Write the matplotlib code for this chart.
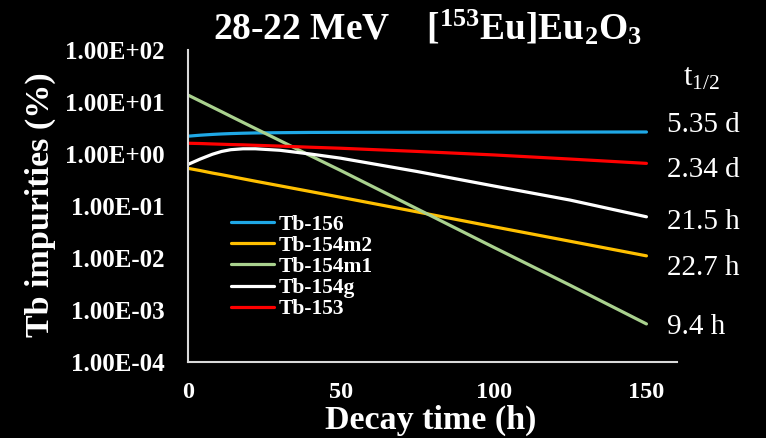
import matplotlib
matplotlib.use("Agg")
import matplotlib.pyplot as plt

# Decay time (h) and impurity levels (%) for each Tb isotope
time_h = [0, 4, 8, 11, 14, 18, 22, 30, 40, 50, 75, 100, 125, 150]
tb156 = [2.20, 2.30, 2.38, 2.43, 2.47, 2.51, 2.54, 2.57, 2.60, 2.61, 2.62, 2.63, 2.64, 2.65]
tb154m2 = [0.53, 0.48, 0.43, 0.40, 0.37, 0.333, 0.30, 0.245, 0.19, 0.147, 0.077, 0.040, 0.021, 0.011]
tb154m1 = [13.6, 10.4, 7.95, 6.5, 5.3, 4.05, 3.1, 1.82, 0.93, 0.48, 0.088, 0.0161, 0.0030, 0.00054]
tb154g = [0.63, 0.80, 0.99, 1.12, 1.21, 1.26, 1.26, 1.18, 1.00, 0.83, 0.46, 0.243, 0.130, 0.062]
tb153 = [1.61, 1.59, 1.56, 1.54, 1.52, 1.50, 1.47, 1.42, 1.35, 1.29, 1.12, 0.96, 0.80, 0.66]

series_labels = ["Tb-156", "Tb-154m2", "Tb-154m1", "Tb-154g", "Tb-153"]
series_values = [tb156, tb154m2, tb154m1, tb154g, tb153]
series_colors = ["#1FA8E6", "#FFC000", "#A9D18E", "#FFFFFF", "#FF0000"]

half_life_labels = ["5.35 d", "2.34 d", "21.5 h", "22.7 h", "9.4 h"]
x_ticks = [0, 50, 100, 150]
y_ticks = [1e2, 1e1, 1e0, 1e-1, 1e-2, 1e-3, 1e-4]
y_tick_labels = ["1.00E+02", "1.00E+01", "1.00E+00", "1.00E-01",
                 "1.00E-02", "1.00E-03", "1.00E-04"]

SERIF = "Liberation Serif"

fig = plt.figure(figsize=(7.66, 4.38), dpi=100, facecolor="black")
ax = fig.add_axes([188 / 766, 76 / 438, 489 / 766, 312 / 438], facecolor="black")

for label, vals, col in zip(series_labels, series_values, series_colors):
    ax.plot(time_h, vals, color=col, lw=2.3, label=label,
            solid_capstyle="round", solid_joinstyle="round")

ax.set_yscale("log")
ax.set_ylim(1e-4, 1e2)
ax.set_xlim(0, 160)
ax.set_xticks(x_ticks)
ax.set_xticklabels([str(t) for t in x_ticks])
ax.set_yticks(y_ticks)
ax.set_yticklabels(y_tick_labels)
ax.yaxis.set_minor_locator(matplotlib.ticker.NullLocator())
ax.tick_params(length=0, colors="white")
ax.tick_params(axis="x", pad=14.5, labelsize=17.5)
ax.tick_params(axis="y", pad=17, labelsize=18)
for lab in ax.get_xticklabels() + ax.get_yticklabels():
    lab.set_fontfamily(SERIF)
    lab.set_fontweight("bold")

for side in ("top", "right"):
    ax.spines[side].set_visible(False)
for side in ("left", "bottom"):
    ax.spines[side].set_color("#D9D9D9")
    ax.spines[side].set_linewidth(1.5)

# Axis titles
fig.text(431 / 766, 1 - 429 / 438, "Decay time (h)", ha="center", va="baseline",
         fontsize=24.5, fontfamily=SERIF, fontweight="bold", color="white")
fig.text(40 / 766, 1 - 205 / 438, "Tb impurities (%)", ha="center", va="center",
         rotation=90, fontsize=24.5, fontfamily=SERIF, fontweight="bold",
         color="white")

leg = ax.legend(loc="upper left", bbox_to_anchor=(0.07, 0.50), frameon=False,
                prop={"family": SERIF, "weight": "bold", "size": 15.5},
                handlelength=2.0, handletextpad=0.2, labelspacing=0.05,
                borderaxespad=0)
for txt in leg.get_texts():
    txt.set_color("white")

fig.text(427 / 766, 1 - 40 / 438,
         r"28-22 MeV    [$\mathregular{^{153}}$Eu]Eu$\mathregular{_2}$O$\mathregular{_3}$",
         ha="center", va="baseline", fontsize=27, fontfamily=SERIF,
         fontweight="bold", color="white")

# Half-life annotations to the right of the curves
fig.text(683 / 766, 1 - 78 / 438, r"t$\mathregular{_{1/2}}$", ha="left",
         va="center", fontsize=22, fontfamily=SERIF, color="white")
hl_y = [125, 170, 222, 268, 327]
for txt, yp in zip(half_life_labels, hl_y):
    fig.text(667 / 766, 1 - yp / 438, txt, ha="left", va="center",
             fontsize=21, fontfamily=SERIF, color="white")

fig.savefig("out.png", dpi=100, facecolor="black")
